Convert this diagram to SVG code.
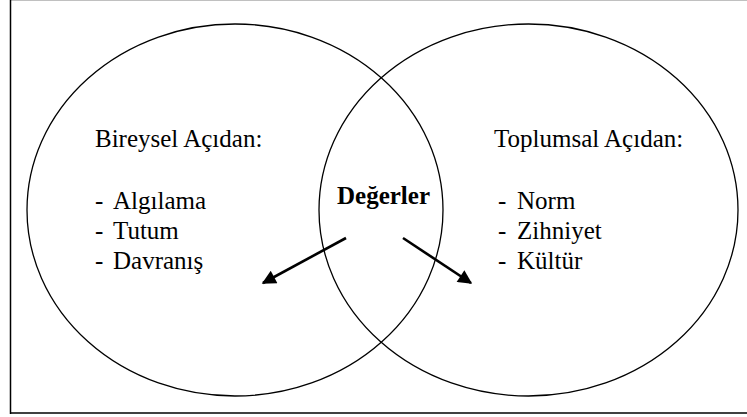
<svg xmlns="http://www.w3.org/2000/svg" width="747" height="417" viewBox="0 0 747 417">
  <style>
    .ring { fill: none; stroke: #000; stroke-width: 1.3; }
    .arrow { stroke: #000; stroke-width: 2.6; fill: none; marker-end: url(#head); }
  </style>
  <defs>
    <marker id="head" viewBox="0 0 10 10" refX="9" refY="5" markerUnits="userSpaceOnUse" markerWidth="18" markerHeight="14" orient="auto">
      <path d="M0,0 L10,5 L0,10 z" fill="#000"/>
    </marker>
  </defs>
  <rect width="747" height="417" fill="#fff"/>

  <!-- page frame -->
  <g id="frame">
    <line x1="10" y1="0.5" x2="747" y2="0.5" stroke="#c0c0c0" stroke-width="1"/>
    <line x1="10.5" y1="0" x2="10.5" y2="414" stroke="#000" stroke-width="1.5"/>
    <line x1="10" y1="413" x2="747" y2="413" stroke="#000" stroke-width="1.5"/>
  </g>

  <!-- individual perspective -->
  <g id="bireysel" font-family="Liberation Serif" font-size="25">
    <ellipse class="ring" cx="235" cy="210" rx="208" ry="186"/>
    <text x="95" y="147">Bireysel Açıdan:</text>
    <text x="95" y="209">-</text>
    <text x="113" y="209">Algılama</text>
    <text x="95" y="239">-</text>
    <text x="113" y="239">Tutum</text>
    <text x="95" y="269">-</text>
    <text x="113" y="269">Davranış</text>
  </g>

  <!-- social perspective -->
  <g id="toplumsal" font-family="Liberation Serif" font-size="25">
    <ellipse class="ring" cx="528.5" cy="210" rx="209.5" ry="186"/>
    <text x="494" y="147">Toplumsal Açıdan:</text>
    <text x="498" y="209">-</text>
    <text x="517" y="209">Norm</text>
    <text x="498" y="239">-</text>
    <text x="517" y="239">Zihniyet</text>
    <text x="498" y="269">-</text>
    <text x="517" y="269">Kültür</text>
  </g>

  <!-- shared centre -->
  <g id="degerler" font-family="Liberation Serif" font-size="25" font-weight="bold">
    <text x="337" y="204">Değerler</text>
  </g>

  <g id="connectors">
    <line class="arrow" x1="346" y1="238" x2="263" y2="283"/>
    <line class="arrow" x1="403" y1="238" x2="471" y2="283"/>
  </g>
</svg>
